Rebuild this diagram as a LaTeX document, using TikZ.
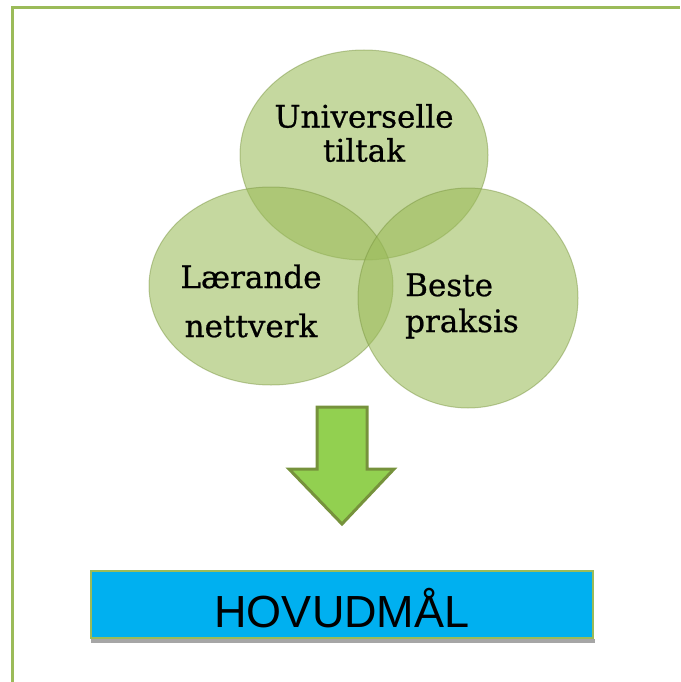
\documentclass[tikz,border=0pt]{standalone}
\usepackage{fontspec}
\setmainfont{DejaVu Serif}
\setsansfont{Liberation Sans}
\newfontfamily\lblfont{DejaVu Serif}[FakeBold=0.7]
\usetikzlibrary{shapes.geometric}
\definecolor{olivegreen}{RGB}{155,187,89}
\definecolor{rimgreen}{RGB}{118,146,60}
\definecolor{arrowgreen}{RGB}{146,208,80}
\definecolor{goalblue}{RGB}{0,176,240}

\begin{document}
\begin{tikzpicture}[x=1pt,y=-1pt,
  area/.style={ellipse,inner sep=0pt,fill=olivegreen,fill opacity=0.58,draw=rimgreen,draw opacity=0.45,line width=1pt},
  lbl/.style={inner sep=0pt,text=black},
  goal/.style={inner sep=0pt,fill=goalblue,draw=olivegreen,line width=1.5pt,font=\sffamily\fontsize{45}{50}\selectfont}]
  \useasboundingbox (0,0) rectangle (680,682);
  \draw[olivegreen,line width=3pt] (12,682) -- (12,8) -- (680,8);
  % the three areas
  \node[area,minimum width=248,minimum height=210] (univ) at (364,155) {};
  \node[area,minimum width=244,minimum height=198] (laer) at (271,286) {};
  \node[area,minimum width=220,minimum height=220] (beste) at (468,298) {};
  \node[lbl,align=center,font=\lblfont\fontsize{31}{34}\selectfont] (univtxt) at (364,133) {Universelle\\tiltak};
  \node[lbl,align=center,font=\lblfont\fontsize{31}{49}\selectfont] (laertxt) at (251,301) {Lærande\\nettverk};
  \node[lbl,align=left,anchor=west,font=\lblfont\fontsize{31}{36}\selectfont] (bestetxt) at (405,306) {Beste\\praksis};
  % arrow down to the goal
  \filldraw[fill=arrowgreen,draw=rimgreen,line width=3pt,line join=miter]
    (317,407) -- (367,407) -- (367,469) -- (394,469) -- (342,524) -- (289,469) -- (317,469) -- cycle;
  \node[goal,minimum width=502,text height=56pt,text depth=11pt] (mal) at (342,604.5) {HOVUDMÅL};
  \fill[black!35] ([xshift=1pt]mal.south west) rectangle ([xshift=1pt,yshift=-4pt]mal.south east);
\end{tikzpicture}
\end{document}
